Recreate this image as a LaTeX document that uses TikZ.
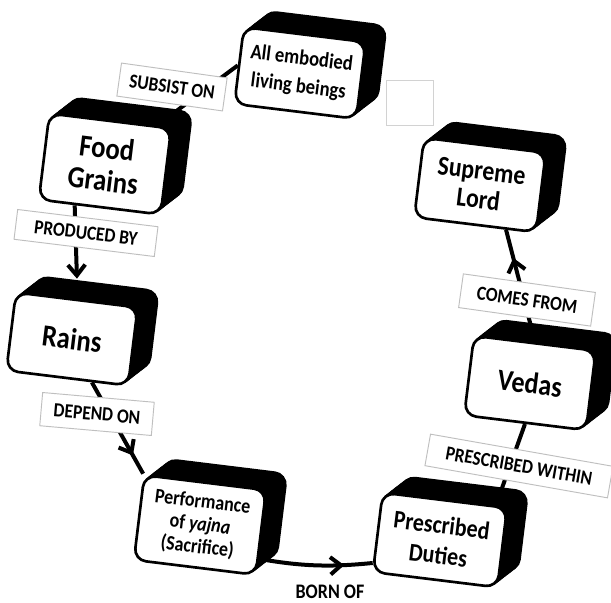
\documentclass[tikz,border=0pt]{standalone}
\usepackage{fontspec}
\setmainfont{Carlito}[FakeStretch=0.87]
\usetikzlibrary{shadows,backgrounds,calc,arrows.meta,decorations.markings}
\tikzset{
  ex/.style 2 args={general shadow={fill=black,draw=black,shadow xshift=#1pt,shadow yshift=#2pt}},
  cube/.style={rectangle, rounded corners=9pt, draw=black, line width=2pt, fill=white,
    rotate=-7, minimum width=92pt, minimum height=61.5pt, align=center, inner sep=2pt,
    ex={15.5}{12}, ex={14.2}{11}, ex={12.9}{10}, ex={11.6}{9}, ex={10.3}{8},
    ex={9}{7}, ex={7.7}{6}, ex={6.4}{5}, ex={5.1}{4}, ex={3.9}{3},
    ex={2.6}{2}, ex={1.3}{1}},
  lab/.style={rectangle, draw=gray!50, line width=0.7pt, fill=white, inner sep=0pt,
    minimum height=24pt, font=\bfseries\fontsize{15}{15}\selectfont},
  blankbox/.style={rectangle, draw=gray!35, line width=0.6pt, fill=white,
    minimum width=35pt, minimum height=34pt, inner sep=0pt},
  conn/.style={draw=black, line width=3pt},
  tip/.style={-{Straight Barb[length=8pt,width=13pt]}},
  midarrow/.style={postaction={decorate}, decoration={markings,
    mark=at position #1 with {\arrow{Straight Barb[length=8pt,width=13pt]}}}},
}
\begin{document}
\begin{tikzpicture}[x=0.75pt,y=-0.75pt]
\useasboundingbox (0,0) rectangle (611,603);
\node[blankbox] (blank) at (410,103) {};
\node[cube, font={\bfseries\fontsize{16}{21}\selectfont}, minimum height=58pt] (ae) at (300,73) {All embodied\\living beings};
\node[cube, font={\bfseries\fontsize{23}{24.5}\selectfont}, minimum height=65pt] (fg) at (105,164) {Food\\Grains};
\node[cube, font={\bfseries\fontsize{20.5}{21.5}\selectfont}, minimum height=60pt] (sl) at (480,185) {Supreme\\Lord};
\node[cube, font={\bfseries\fontsize{23}{24}\selectfont}, minimum height=59pt] (rains) at (72,339) {Rains};
\node[cube, font={\bfseries\fontsize{22.5}{24}\selectfont}, minimum height=60pt] (vedas) at (530,383) {Vedas};
\node[cube, font={\bfseries\fontsize{15.5}{17}\selectfont}, minimum height=64pt] (perf) at (200,525) {Performance\\of \textit{yajna}\\(Sacrifice)};
\node[cube, font={\bfseries\fontsize{19}{22.5}\selectfont}, minimum width=94pt, minimum height=60pt] (duties) at (440,540) {Prescribed\\Duties};

\node[lab, rotate=-8, minimum width=80pt, minimum height=25pt] (l1) at (172,87) {SUBSIST ON};
\node[lab, rotate=-7, minimum width=106pt, minimum height=22.5pt] (l2) at (86,233) {PRODUCED BY};
\node[lab, rotate=-5, minimum width=84pt, minimum height=25pt] (l3) at (97,414) {DEPEND ON};
\node[font=\bfseries\fontsize{15.5}{15.5}\selectfont, inner sep=1pt] (l4) at (330,592) {BORN OF};
\node[lab, rotate=-10, minimum width=139pt, minimum height=24pt] (l5) at (519,466) {PRESCRIBED WITHIN};
\node[lab, rotate=-8, minimum width=100pt, minimum height=25.5pt] (l6) at (527,300) {COMES FROM};

\coordinate (b1) at ($(perf.east)!0.6!(perf.south east)$);
\coordinate (b2) at ($(duties.west)!0.75!(duties.south west)$);

\begin{pgfonlayer}{background}
\fill[white] (0,0) rectangle (611,603);
\draw[conn] ($(fg.north)!0.75!(fg.north east)$) -- (ae.west);
\draw[conn, tip] ($(fg.south west)!0.3!(fg.south east)$) -- ($(rains.north)+(0,-20)$);
\draw[conn, midarrow=0.8] ($(rains.south)!0.4!(rains.south east)$) -- (perf.north west);
\draw[conn, midarrow=0.75] (b1) .. controls ($(b1)+(45,8)$) and ($(b2)+(-40,4)$) .. (b2);
\draw[conn] ($(duties.north)!0.8!(duties.north east)$) -- (vedas.south);
\draw[conn, midarrow=0.75] (vedas.north) -- ($(sl.south)!0.5!(sl.south east)$);
\end{pgfonlayer}
\end{tikzpicture}
\end{document}
